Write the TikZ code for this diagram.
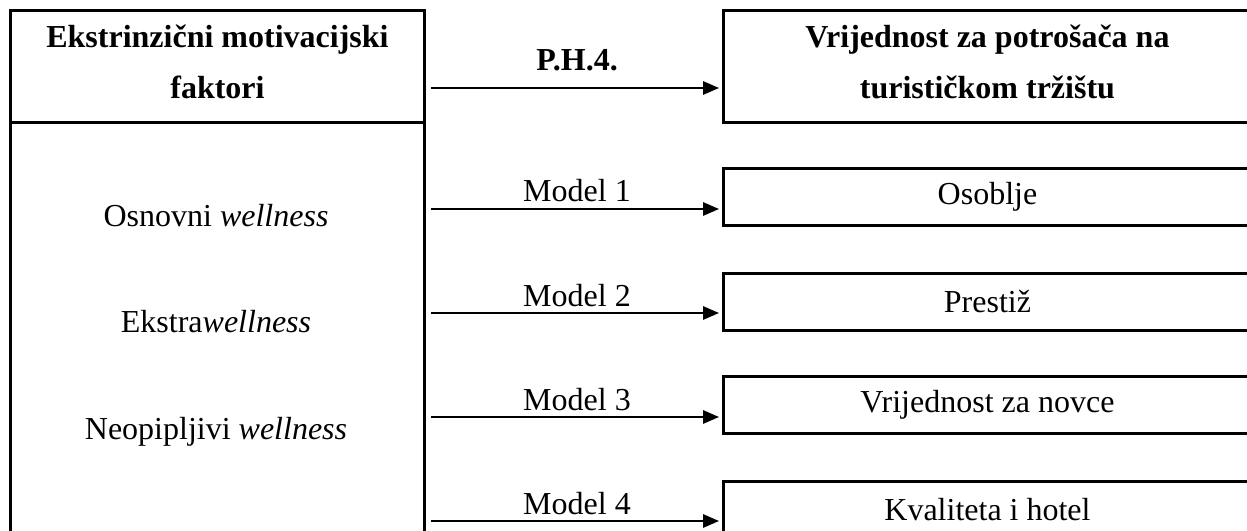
\documentclass[tikz,border=0pt]{standalone}
\usepackage{fontspec}
\setmainfont{Liberation Serif}
\usetikzlibrary{arrows.meta}
\newdimen\px
\px=0.375pt

\begin{document}
\begin{tikzpicture}[x=0.375pt,y=-0.375pt,
    txt/.style={font=\fontsize{12pt}{18pt}\selectfont},
    btxt/.style={font=\fontsize{12pt}{19pt}\selectfont\bfseries},
    box/.style={draw, line width=1.1pt, anchor=north west, inner sep=0pt},
    arr/.style={line width=0.75pt, shorten >=3\px, -{Triangle[length=6pt,width=5pt]}}]

    \clip (0,0) rectangle (1247,531);

    % left column
    \node[box, btxt, align=center, text depth=10\px, minimum width=414\px, minimum height=112\px] (fachead) at (9,9) {Ekstrinzični motivacijski\\faktori};
    \node[box, minimum width=414\px, minimum height=440\px] (facbody) at (9,121) {};
    %labels left column
    \node[txt] (osn) at (216,216) {Osnovni \textit{wellness}};
    \node[txt] (ekw) at (216,322) {Ekstra\textit{wellness}};
    \node[txt] (neo) at (216,432) {Neopipljivi \textit{wellness}};

    % right column
    \node[box, btxt, align=center, text depth=10\px, minimum width=528\px, minimum height=112\px] (valhead) at (722,9) {Vrijednost za potrošača na\\turističkom tržištu};
    \node[box, txt, minimum width=528\px, minimum height=57\px] (osob) at (722,167) {Osoblje};
    \node[box, txt, minimum width=528\px, minimum height=57\px] (prest) at (722,272) {Prestiž};
    \node[box, txt, minimum width=528\px, minimum height=57\px] (novac) at (722,375) {Vrijednost za novce};
    \node[box, txt, minimum width=528\px, minimum height=57\px] (kval) at (722,480) {Kvaliteta i hotel};

    % arrows
    \coordinate (aph) at (431,88);
    \coordinate (a1) at (431,209);
    \coordinate (a2) at (431,313);
    \coordinate (a3) at (431,417);
    \coordinate (a4) at (431,521);
    \draw[arr] (aph) -- (aph -| valhead.west);
    \draw[arr] (a1) -- (a1 -| osob.west);
    \draw[arr] (a2) -- (a2 -| prest.west);
    \draw[arr] (a3) -- (a3 -| novac.west);
    \draw[arr] (a4) -- (a4 -| kval.west);

    %labels arrows
    \node[btxt, anchor=base] (ph4) at (577,71) {P.H.4.};
    \node[txt, anchor=base] (mod1) at (577,202) {Model 1};
    \node[txt, anchor=base] (mod2) at (577,306) {Model 2};
    \node[txt, anchor=base] (mod3) at (577,410) {Model 3};
    \node[txt, anchor=base] (mod4) at (577,514) {Model 4};

\end{tikzpicture}
\end{document}
